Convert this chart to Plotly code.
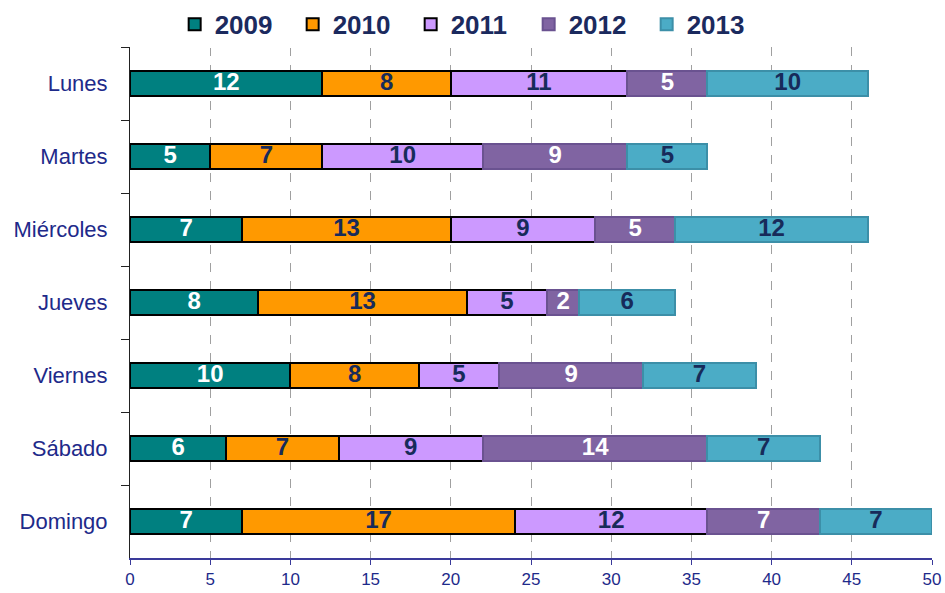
import plotly.graph_objects as go

days = ["Lunes", "Martes", "Miércoles", "Jueves", "Viernes", "Sábado", "Domingo"]
years = ["2009", "2010", "2011", "2012", "2013"]
v2009 = [12, 5, 7, 8, 10, 6, 7]
v2010 = [8, 7, 13, 13, 8, 7, 17]
v2011 = [11, 10, 9, 5, 5, 9, 12]
v2012 = [5, 9, 5, 2, 9, 14, 7]
v2013 = [10, 5, 12, 6, 7, 7, 7]
series = [v2009, v2010, v2011, v2012, v2013]
x_ticks = [0, 5, 10, 15, 20, 25, 30, 35, 40, 45, 50]

colors = ["#008080", "#FF9900", "#CC99FF", "#8064A2", "#4BACC6"]
borders = ["#000000", "#000000", "#000000", "#6A5290", "#3C8FA8"]
label_colors = ["white", "#172B5A", "#172B5A", "white", "#172B5A"]
FONT = "Liberation Sans, Arial, sans-serif"

fig = go.Figure()
base = [0] * len(days)
for yr, vals, c, bc, lc in zip(years, series, colors, borders, label_colors):
    fig.add_trace(go.Bar(
        y=days, x=vals, name=yr, orientation="h",
        marker=dict(color=c, line=dict(color=bc, width=2)),
        textposition="none", hoverinfo="x+y+name",
    ))
    mids = [b + v / 2 for b, v in zip(base, vals)]
    fig.add_trace(go.Scatter(
        y=days, x=mids, mode="text", text=[str(v) for v in vals],
        textposition="middle center", showlegend=False, hoverinfo="skip",
        textfont=dict(family=FONT, size=24, color=lc, weight="bold"),
        cliponaxis=False,
    ))
    base = [b + v for b, v in zip(base, vals)]

fig.update_layout(
    barmode="stack",
    bargap=0.67,
    width=945, height=593,
    paper_bgcolor="white", plot_bgcolor="white",
    margin=dict(l=130, r=13, t=47, b=35, autoexpand=False),
    font=dict(family=FONT),
    legend=dict(
        orientation="h", x=0.497, xanchor="center", xref="container",
        y=0.959, yanchor="middle", yref="container",
        font=dict(family=FONT, size=26, color="#1B2A5E", weight="bold"),
        itemwidth=30, traceorder="normal",
        entrywidth=73, entrywidthmode="pixels",
    ),
    showlegend=True,
)
fig.update_xaxes(
    range=[0, 50], tickvals=x_ticks, ticktext=[str(t) for t in x_ticks],
    showgrid=True, gridcolor="#A0A0A0", griddash="dash", gridwidth=1,
    showline=True, linecolor="#3A3A9A", linewidth=2,
    ticks="outside", ticklen=5, tickcolor="#3A3A9A",
    tickfont=dict(size=17, color="#1E2A8A"),
    zeroline=False, automargin=False,
)
fig.update_yaxes(
    autorange="reversed", automargin=False,
    showline=True, linecolor="#222222", linewidth=1,
    ticks="outside", ticklen=8, tickcolor="#222222", tickson="boundaries",
    ticklabelstandoff=17,
    tickfont=dict(size=22, color="#1E2A8A"),
    showgrid=False,
)

fig.write_html("out.html", config={"displayModeBar": False},
               post_script="document.body.style.margin='0';")
